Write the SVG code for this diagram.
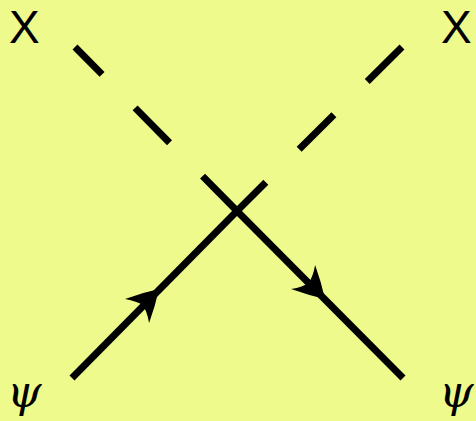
<svg xmlns="http://www.w3.org/2000/svg" width="476" height="421" viewBox="0 0 476 421">
<style>
.ln{stroke:#000;stroke-width:7;fill:none;stroke-linecap:butt}
.ds{stroke-dasharray:49 47}
.x{font-family:"Liberation Sans","DejaVu Sans",sans-serif;font-size:46px;fill:#000}
.psi{font-family:"DejaVu Serif","Liberation Serif",serif;font-style:italic;font-size:44px;fill:#000}
</style>
<defs>
<path id="ah" d="M0,0 Q-14,-9 -31,-17 Q-24,-7 -23,0 Q-24,7 -31,17 Q-14,9 0,0 Z" fill="#000"/>
</defs>
<rect width="476" height="421" fill="#effa8c"/>
<g id="connectors">
<line class="ln ds" x1="237" y1="211" x2="75" y2="47"/>
<line class="ln ds" x1="402" y1="47" x2="237" y2="211"/>
<line class="ln" x1="72" y1="378" x2="237" y2="211"/>
<line class="ln" x1="237" y1="211" x2="403" y2="378"/>
<use href="#ah" transform="translate(159,289) rotate(-45)"/>
<use href="#ah" transform="translate(325,299) rotate(45)"/>
</g>
<g id="x-left"><text class="x" x="9" y="43">X</text></g>
<g id="x-right"><text class="x" x="441" y="43">X</text></g>
<g id="psi-left"><text class="psi" x="7" y="407">ψ</text></g>
<g id="psi-right"><text class="psi" x="439" y="407">ψ</text></g>
</svg>
